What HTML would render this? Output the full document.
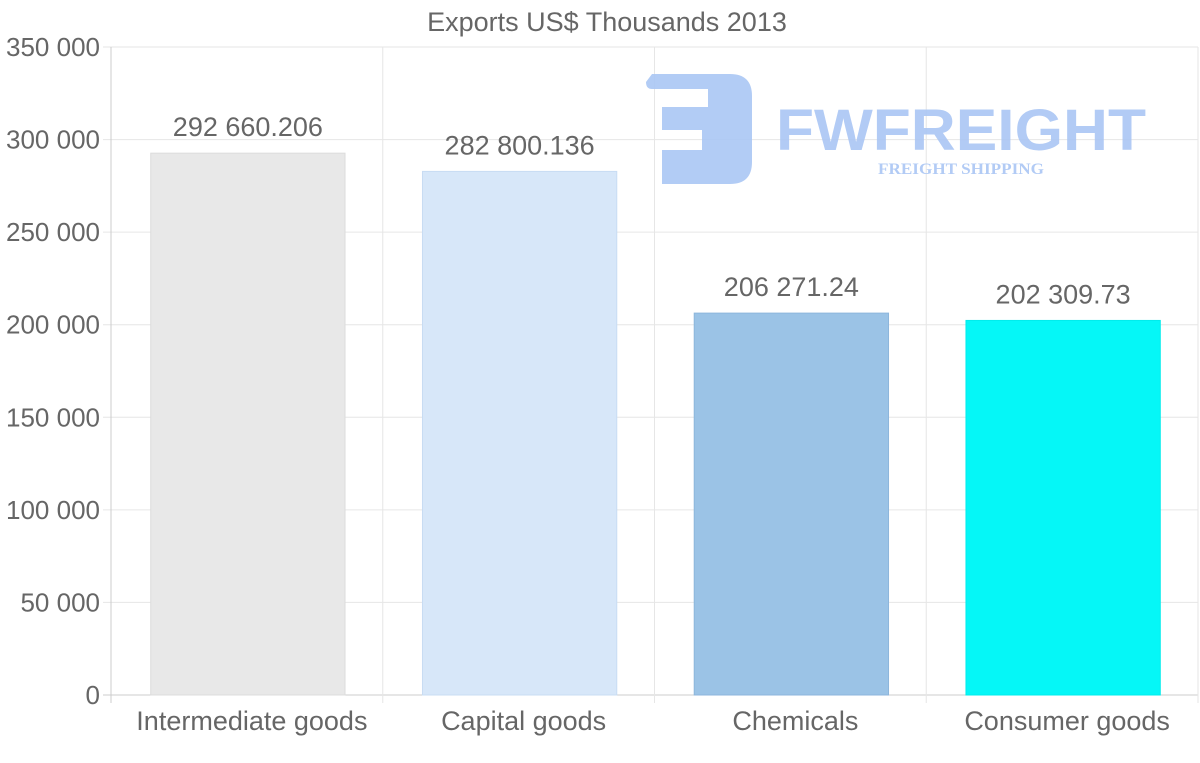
<!DOCTYPE html>
<html><head><meta charset="utf-8"><style>
html,body{margin:0;padding:0;background:#fff;}
svg{display:block;font-family:"Liberation Sans",sans-serif;}
</style></head><body>
<svg id="chart" width="1200" height="763">
<text x="607" y="31" text-anchor="middle" font-size="27" fill="#666">Exports US$ Thousands 2013</text>
<g id="grid"></g>
<g id="watermark" fill="#aac6f4" opacity="0.9">
<path d="M652 74 H730 Q752 74 752 96 V162 Q752 184 730 184 H662 V150 H702 V130 H662 V107 H708 V89 H652 Q646 89 646 82 Z"/>
<text x="776" y="150" font-size="58" font-weight="bold" fill="#aac6f4" textLength="370" lengthAdjust="spacingAndGlyphs">FWFREIGHT</text>
<text x="878" y="174" font-size="16" font-weight="bold" fill="#aac6f4" font-family="Liberation Serif,serif" textLength="166" lengthAdjust="spacingAndGlyphs">FREIGHT SHIPPING</text>
</g>
<g id="bars"></g>
<g id="axes"></g>
</svg>
<script>
const categories = ["Intermediate goods","Capital goods","Chemicals","Consumer goods"];
const values = [292660.206, 282800.136, 206271.24, 202309.73];
const valueLabels = ["292 660.206","282 800.136","206 271.24","202 309.73"];
const yTicks = [0,50000,100000,150000,200000,250000,300000,350000];
const yTickLabels = ["0","50 000","100 000","150 000","200 000","250 000","300 000","350 000"];
const colors = ["#e8e8e8","#d7e7f9","#9bc3e6","#05f7f7"];
const borders = ["#dcdcdc","#c8dcf3","#8db6dc","#00ecec"];

const NS="http://www.w3.org/2000/svg";
const L=111,R=1198,T=47,B=695,yMax=350000;
const y=v=>B-(v/yMax)*(B-T);
const bw=(R-L)/categories.length;
const x=i=>L+bw*i;
function mk(tag,attrs,parent,txt){const e=document.createElementNS(NS,tag);for(const k in attrs)e.setAttribute(k,attrs[k]);if(txt!==undefined)e.textContent=txt;parent.appendChild(e);return e;}
const grid=document.getElementById('grid'),bars=document.getElementById('bars'),axes=document.getElementById('axes');
yTicks.forEach((t,i)=>{
  const ln=mk('line',{x1:L-8,x2:R,y1:y(t),y2:y(t),stroke:i===0?'#ccc':'#e6e6e6','stroke-width':1},grid);
  
  
  const tx=mk('text',{x:100,y:y(t)+9,'text-anchor':'end','font-size':26,fill:'#666'},axes,yTickLabels[i]);
  
  
});
for(let i=0;i<=categories.length;i++){
  const ln=mk('line',{x1:x(i),x2:x(i),y1:T,y2:B+8,stroke:i===0?'#ccc':'#e6e6e6','stroke-width':1},grid);
  
  
}
categories.forEach((c,i)=>{
  const w=bw*0.715,cx=x(i)+bw/2+1;
  const r=mk('rect',{x:cx-w/2,y:y(values[i]),width:w,height:B-y(values[i]),fill:colors[i],stroke:borders[i],'stroke-width':1},bars);
  
  
  const vl=mk('text',{x:cx,y:y(values[i])-17,'text-anchor':'middle','font-size':27,fill:'#666'},bars,valueLabels[i]);
  
  
  const cl=mk('text',{x:cx+4,y:730,'text-anchor':'middle','font-size':27,fill:'#666'},axes,c);
  
  
});
</script>
</body></html>
